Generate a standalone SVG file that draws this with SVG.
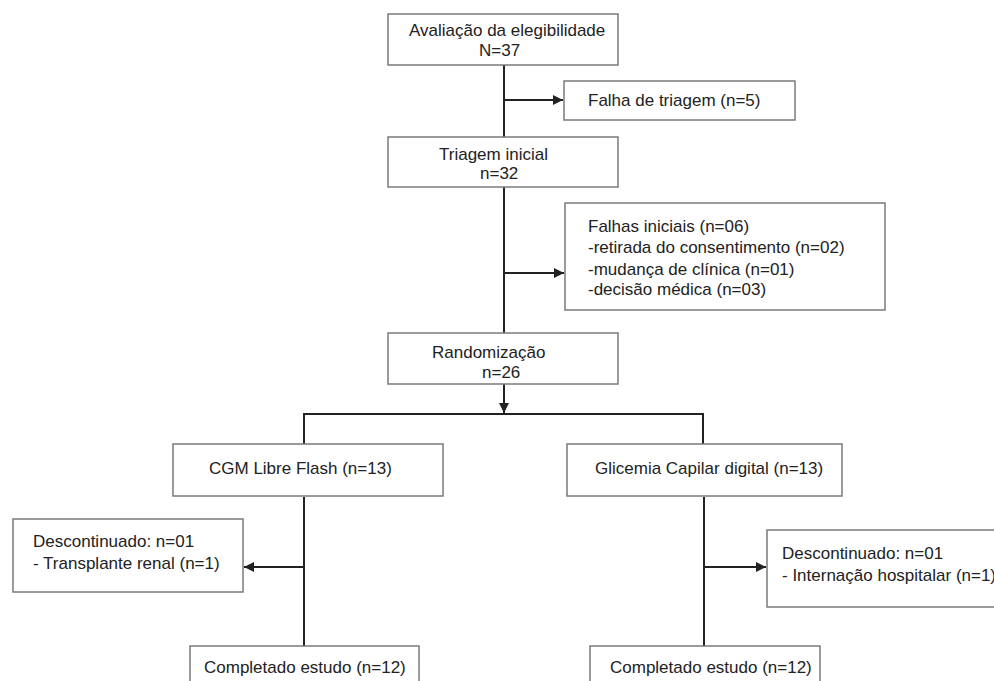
<svg xmlns="http://www.w3.org/2000/svg" width="994" height="681" viewBox="0 0 994 681">
<defs>
<style>
.box{fill:#fff;stroke:#7a7a7a;stroke-width:1.5}
.t{font-family:"Liberation Sans",Arial,sans-serif;font-size:17px;fill:#222}
.c{fill:none;stroke:#222;stroke-width:2}
</style>
<marker id="ah" viewBox="0 0 10 10" refX="10" refY="5" markerWidth="10" markerHeight="10" markerUnits="userSpaceOnUse" orient="auto">
<path d="M0,0 L10,5 L0,10 Z" fill="#222"/>
</marker>
</defs>
<rect width="994" height="681" fill="#fff"/>
<g id="connectors">
<line class="c" x1="504" y1="65" x2="504" y2="137"/>
<line class="c" x1="504" y1="100" x2="563" y2="100" marker-end="url(#ah)"/>
<line class="c" x1="504" y1="187" x2="504" y2="333"/>
<line class="c" x1="504" y1="273" x2="564" y2="273" marker-end="url(#ah)"/>
<line class="c" x1="504" y1="384" x2="504" y2="413" marker-end="url(#ah)"/>
<polyline class="c" points="304,444 304,414 703,414 703,444"/>
<line class="c" x1="304" y1="497" x2="304" y2="646"/>
<line class="c" x1="304" y1="567" x2="244" y2="567" marker-end="url(#ah)"/>
<line class="c" x1="704" y1="497" x2="704" y2="646"/>
<line class="c" x1="704" y1="567" x2="766" y2="567" marker-end="url(#ah)"/>
</g>
<g id="n1"><rect class="box" x="388" y="14" width="230" height="51"/>
<text class="t" x="409" y="36">Avaliação da elegibilidade</text>
<text class="t" x="479" y="56">N=37</text></g>
<g id="n2"><rect class="box" x="564" y="81" width="231" height="39"/>
<text class="t" x="588" y="106">Falha de triagem (n=5)</text></g>
<g id="n3"><rect class="box" x="388" y="137" width="230" height="50"/>
<text class="t" x="439" y="160">Triagem inicial</text>
<text class="t" x="480" y="179">n=32</text></g>
<g id="n4"><rect class="box" x="565" y="203" width="320" height="107"/>
<text class="t" x="588" y="232">Falhas iniciais (n=06)</text>
<text class="t" x="588" y="253">-retirada do consentimento (n=02)</text>
<text class="t" x="588" y="275">-mudança de clínica (n=01)</text>
<text class="t" x="588" y="295">-decisão médica (n=03)</text></g>
<g id="n5"><rect class="box" x="388" y="333" width="230" height="51"/>
<text class="t" x="432" y="358">Randomização</text>
<text class="t" x="482" y="378">n=26</text></g>
<g id="n6"><rect class="box" x="173" y="444" width="270" height="52"/>
<text class="t" x="209" y="474">CGM Libre Flash (n=13)</text></g>
<g id="n7"><rect class="box" x="567" y="444" width="275" height="52"/>
<text class="t" x="595" y="474">Glicemia Capilar digital (n=13)</text></g>
<g id="n8"><rect class="box" x="13" y="519" width="230" height="73"/>
<text class="t" x="33" y="547">Descontinuado: n=01</text>
<text class="t" x="33" y="569">- Transplante renal (n=1)</text></g>
<g id="n9"><rect class="box" x="767" y="530" width="240" height="77"/>
<text class="t" x="782" y="559">Descontinuado: n=01</text>
<text class="t" x="782" y="581">- Internação hospitalar (n=1)</text></g>
<g id="n10"><rect class="box" x="190" y="646" width="229" height="45"/>
<text class="t" x="204" y="673">Completado estudo (n=12)</text></g>
<g id="n11"><rect class="box" x="590" y="646" width="230" height="45"/>
<text class="t" x="610" y="673">Completado estudo (n=12)</text></g>
</svg>
